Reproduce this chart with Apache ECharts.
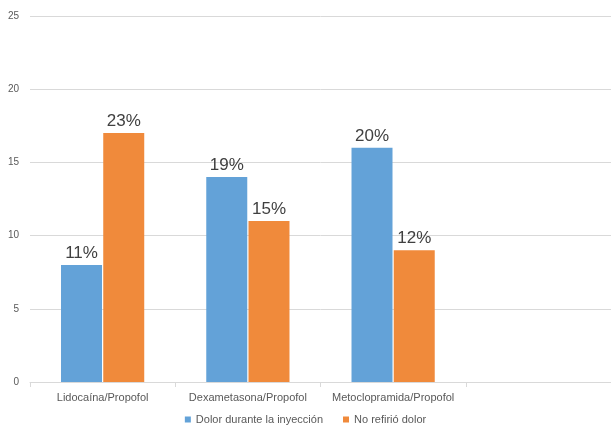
<!DOCTYPE html>
<html>
<head>
<meta charset="utf-8">
<script src="https://cdn.jsdelivr.net/npm/echarts@6/dist/echarts.min.js"></script>
<style>
  html, body { margin: 0; padding: 0; background: #fff; }
  #chart { width: 611px; height: 425px; }
</style>
</head>
<body>
<div id="chart"></div>
<script>
// categorias (la cuarta queda vacia como en el original)
var categorias = ['Lidocaína/Propofol', 'Dexametasona/Propofol', 'Metoclopramida/Propofol', ''];
var dolorInyeccion = [8, 14, 16, null];
var noRefirio = [17, 11, 9, null];
var etiquetasDolor = ['11%', '19%', '20%', ''];
var etiquetasNo = ['23%', '15%', '12%', ''];
var ticksY = [0, 5, 10, 15, 20, 25];

window.onload = function(){
  var option = {
    animation: false,
    textStyle: { fontFamily: 'Liberation Sans, Arial, sans-serif' },
    grid: { left: 30, right: -6, top: 16, bottom: 43 },
    legend: {
      bottom: -5,
      left: 'center',
      itemWidth: 6,
      itemHeight: 6,
      itemGap: 20,
      icon: 'rect',
      textStyle: { fontSize: 11, color: '#595959' },
      data: ['Dolor durante la inyección', 'No refirió dolor']
    },
    xAxis: {
      type: 'category',
      data: categorias,
      axisLine: { lineStyle: { color: '#d9d9d9' } },
      axisTick: { show: true, length: 5, lineStyle: { color: '#d9d9d9' } },
      axisLabel: { interval: 0, fontSize: 11, color: '#595959', margin: 10 }
    },
    yAxis: {
      type: 'value',
      min: ticksY[0],
      max: ticksY[ticksY.length - 1],
      interval: 5,
      axisLine: { show: false },
      axisTick: { show: false },
      axisLabel: { fontSize: 10, color: '#595959', margin: 11 },
      splitLine: { lineStyle: { color: '#d9d9d9' } }
    },
    series: [
      {
        name: 'Dolor durante la inyección',
        type: 'bar',
        data: dolorInyeccion,
        barWidth: 41,
        barGap: '3%',
        itemStyle: { color: '#63a2d8' },
        label: {
          show: true,
          position: 'top',
          fontSize: 17,
          color: '#404040',
          distance: 3,
          formatter: function(p){ return etiquetasDolor[p.dataIndex]; }
        }
      },
      {
        name: 'No refirió dolor',
        type: 'bar',
        data: noRefirio,
        barWidth: 41,
        itemStyle: { color: '#f08a3b' },
        label: {
          show: true,
          position: 'top',
          fontSize: 17,
          color: '#404040',
          distance: 3,
          formatter: function(p){ return etiquetasNo[p.dataIndex]; }
        }
      }
    ]
  };
  var myChart = echarts.init(document.getElementById('chart'));
  myChart.setOption(option);
};
</script>
</body>
</html>
